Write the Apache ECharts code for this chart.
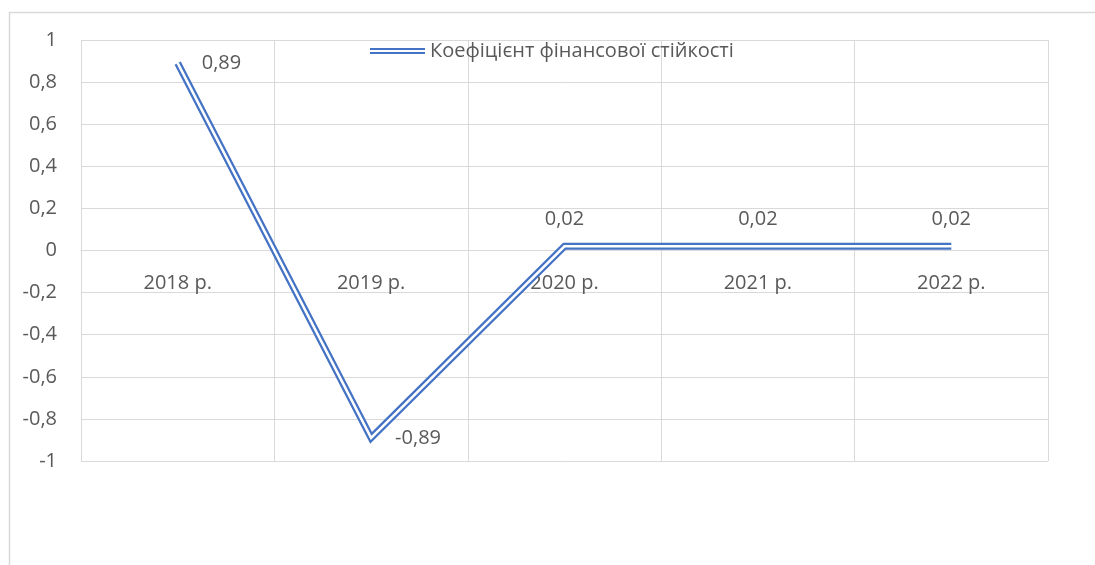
<!DOCTYPE html>
<html>
<head>
<meta charset="utf-8">
<title>Коефіцієнт фінансової стійкості</title>
<script src="https://cdn.jsdelivr.net/npm/echarts@6/dist/echarts.min.js"></script>
<style>
  html, body { margin: 0; padding: 0; background: #fff; }
  #main { width: 1095px; height: 565px; }
</style>
</head>
<body>
<div id="main"></div>
<script>
// chart data
var years = ['2018 р.', '2019 р.', '2020 р.', '2021 р.', '2022 р.'];
var stability = [0.89, -0.89, 0.02, 0.02, 0.02];
var seriesName = 'Коефіцієнт фінансової стійкості';

var FONT = '"Open Sans", sans-serif';
var FS = 20;
var TXT = '#595959';
var GRID = '#d9d9d9';
var BLUE = '#4472c4';

function comma(v) {
  return String(+v.toFixed(2)).replace('.', ',');
}

var chart = echarts.init(document.getElementById('main'));

chart.setOption({
  animation: false,
  textStyle: { fontFamily: FONT },
  graphic: [{
    type: 'rect',
    shape: { x: 9.5, y: 12.5, width: 1200, height: 700 },
    style: { fill: 'none', stroke: '#d9d9d9', lineWidth: 1.5 },
    silent: true
  }],
  grid: { left: 81, right: 47, top: 40, bottom: 104, containLabel: false },
  legend: {
    data: [seriesName],
    left: 365,
    top: 36,
    icon: 'path://M0,0H55V2H0ZM0,4H55V6H0Z',
    itemWidth: 55,
    itemHeight: 6,
    itemGap: 5,
    textStyle: { fontFamily: FONT, fontSize: FS, color: TXT }
  },
  xAxis: {
    type: 'category',
    data: years,
    boundaryGap: true,
    // the axis crosses the value axis at zero
    offset: -211,
    axisLine: { onZero: false, lineStyle: { color: GRID, width: 1 } },
    axisTick: { show: false },
    axisLabel: { margin: 23, fontSize: FS, color: TXT, fontFamily: FONT },
    splitLine: { show: true, lineStyle: { color: GRID, width: 1 } }
  },
  yAxis: {
    type: 'value',
    min: -1,
    max: 1,
    interval: 0.2,
    axisLine: { show: false },
    axisTick: { show: false },
    axisLabel: {
      margin: 24, fontSize: FS, color: TXT, fontFamily: FONT,
      formatter: function (v) { return comma(v); }
    },
    splitLine: { lineStyle: { color: GRID, width: 1 } }
  },
  series: [{
    name: seriesName,
    type: 'line',
    symbol: 'none',
    data: stability,
    itemStyle: { color: BLUE },
    lineStyle: { color: BLUE, width: 7, join: 'miter', cap: 'butt' },
    z: 3
  }, {
    // white core that turns the thick line into a double line; carries the labels
    name: 'inner',
    type: 'line',
    symbol: 'circle',
    symbolSize: 2,
    showSymbol: true,
    itemStyle: { color: '#ffffff' },
    data: stability.map(function (v, i) {
      return {
        value: v,
        label: { position: i < 2 ? 'right' : 'top', distance: i < 2 ? 23 : 16 }
      };
    }),
    lineStyle: { color: '#ffffff', width: 2.5, join: 'miter', cap: 'butt' },
    label: {
      show: true,
      fontSize: FS,
      color: TXT,
      fontFamily: FONT,
      formatter: function (p) { return comma(p.value); }
    },
    silent: true,
    z: 4
  }]
});
</script>
</body>
</html>
